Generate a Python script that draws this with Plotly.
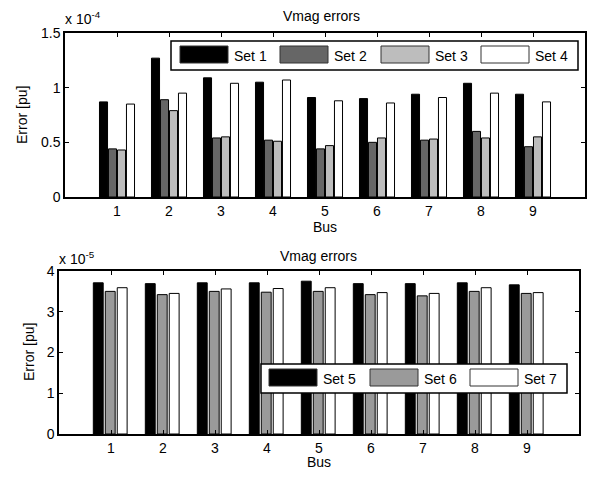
import plotly.graph_objects as go

W, H = 590, 479

# ---------------- data ----------------
buses = [1, 2, 3, 4, 5, 6, 7, 8, 9]

# top panel (units of 1e-4 pu)
set1 = [0.87, 1.27, 1.09, 1.05, 0.91, 0.90, 0.94, 1.04, 0.94]
set2 = [0.44, 0.89, 0.54, 0.52, 0.44, 0.50, 0.52, 0.60, 0.46]
set3 = [0.43, 0.79, 0.55, 0.51, 0.47, 0.54, 0.53, 0.54, 0.55]
set4 = [0.85, 0.95, 1.04, 1.07, 0.88, 0.86, 0.91, 0.95, 0.87]

# bottom panel (units of 1e-5 pu)
set5 = [3.71, 3.69, 3.71, 3.71, 3.75, 3.69, 3.69, 3.71, 3.66]
set6 = [3.50, 3.42, 3.50, 3.48, 3.50, 3.42, 3.39, 3.50, 3.45]
set7 = [3.59, 3.45, 3.56, 3.57, 3.59, 3.47, 3.45, 3.59, 3.47]

top_names = ["Set 1", "Set 2", "Set 3", "Set 4"]
bot_names = ["Set 5", "Set 6", "Set 7"]
top_colors = ["#000000", "#666666", "#bdbdbd", "#ffffff"]
bot_colors = ["#000000", "#9a9a9a", "#ffffff"]

top_yticks = [0, 0.5, 1, 1.5]
top_yticklabels = ["0", "0.5", "1", "1.5"]
bot_yticks = [0, 1, 2, 3, 4]

FONT = "Liberation Sans, Arial, sans-serif"
FS = 14


def px(x):
    return x / W


def py(y):
    return 1 - y / H


fig = go.Figure()

# top grouped bars
top_series = [set1, set2, set3, set4]
slot_t, bw_t = 0.173, 0.155
for k, (vals, name, col) in enumerate(zip(top_series, top_names, top_colors)):
    fig.add_trace(go.Bar(
        x=buses, y=vals, name=name, xaxis="x", yaxis="y",
        marker=dict(color=col, line=dict(color="#000000", width=1)),
        width=bw_t, offset=-0.346 + k * slot_t + 0.009, showlegend=False))

# bottom grouped bars
bot_series = [set5, set6, set7]
slot_b, bw_b = 0.23, 0.19
for k, (vals, name, col) in enumerate(zip(bot_series, bot_names, bot_colors)):
    fig.add_trace(go.Bar(
        x=buses, y=vals, name=name, xaxis="x2", yaxis="y2",
        marker=dict(color=col, line=dict(color="#000000", width=1)),
        width=bw_b, offset=-0.34 + k * slot_b, showlegend=False))

axis_common = dict(
    showline=True, linecolor="#000000", linewidth=1.5, mirror="ticks",
    ticks="inside", ticklen=4, tickcolor="#000000", tickwidth=1,
    showgrid=False, zeroline=False, automargin=False,
    tickfont=dict(family=FONT, size=FS, color="#000000"),
)

fig.update_layout(
    template="none",
    width=W, height=H,
    margin=dict(l=0, r=0, t=0, b=0, pad=0, autoexpand=False),
    paper_bgcolor="#ffffff", plot_bgcolor="#ffffff",
    barmode="overlay",
    font=dict(family=FONT, size=FS, color="#000000"),
    xaxis=dict(domain=[px(65), px(585)], anchor="y", range=[0, 10],
               tickvals=buses, **axis_common),
    yaxis=dict(domain=[py(197), py(33)], anchor="x", range=[0, 1.5],
               tickvals=top_yticks, ticktext=top_yticklabels, **axis_common),
    xaxis2=dict(domain=[px(59), px(579)], anchor="y2", range=[0, 10],
                tickvals=buses, **axis_common),
    yaxis2=dict(domain=[py(434), py(271)], anchor="x2", range=[0, 4],
                tickvals=bot_yticks, **axis_common),
)

ann = []
shapes = []


def text(x, y, s, xanchor="center", yanchor="middle", angle=0):
    ann.append(dict(xref="paper", yref="paper", x=px(x), y=py(y), text=s,
                    showarrow=False, xanchor=xanchor, yanchor=yanchor,
                    textangle=angle,
                    font=dict(family=FONT, size=FS, color="#000000")))


# titles, axis labels, exponents
text(322, 16, "Vmag errors")
text(318, 256, "Vmag errors")
text(325, 227, "Bus")
text(319, 462, "Bus")
text(22, 115, "Error [pu]", angle=-90)
text(29, 352, "Error [pu]", angle=-90)
text(63, 18, "x 10<sup>-4</sup>", xanchor="left")
text(57, 258, "x 10<sup>-5</sup>", xanchor="left")


def legend(box, items):
    x0, y0, x1, y1 = box
    shapes.append(dict(type="rect", xref="paper", yref="paper",
                       x0=px(x0), x1=px(x1), y0=py(y1), y1=py(y0),
                       line=dict(color="#000000", width=1.5),
                       fillcolor="#ffffff", layer="above"))
    for sx, name, col in items:
        shapes.append(dict(type="rect", xref="paper", yref="paper",
                           x0=px(sx), x1=px(sx + 48),
                           y0=py(y0 + 22), y1=py(y0 + 5),
                           line=dict(color="#333333", width=1),
                           fillcolor=col, layer="above"))
        text(sx + 52, (y0 + y1) / 2 + 0.5, name, xanchor="left")


legend((171, 41, 578, 70), zip([180, 280, 381, 481], top_names, top_colors))
legend((261, 364, 567, 393), zip([269, 370, 470], bot_names, bot_colors))

fig.update_layout(annotations=ann, shapes=shapes)

fig.write_html(
    "out.html",
    config={"displayModeBar": False},
    post_script="document.body.style.margin='0';"
                "document.body.style.overflow='hidden';",
)
